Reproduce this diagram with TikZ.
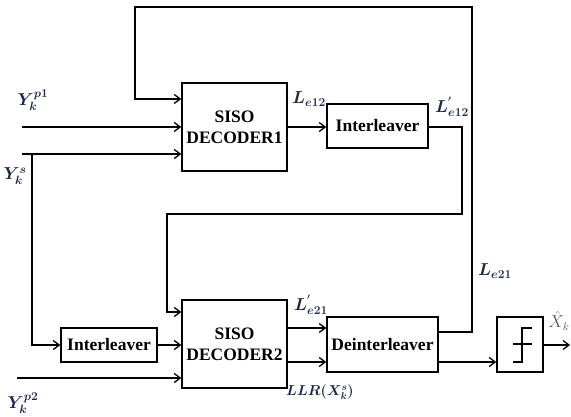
\documentclass[tikz,border=0pt]{standalone}
\usepackage{amsmath,bm}
\usepackage{fontspec}
\setmainfont{Liberation Serif}
\usetikzlibrary{arrows.meta}
\definecolor{labcol}{RGB}{25,40,75}
\definecolor{xcol}{RGB}{90,90,90}
\tikzset{
  blk/.style={draw, line width=1.5pt, fill=white, align=center, inner sep=0pt,
    font=\fontsize{17.5}{21}\selectfont\bfseries},
  wire/.style={line width=1.5pt},
  arr/.style={wire, -{Straight Barb[length=6pt,width=9pt,line width=1.3pt]}},
  lab/.style={text=labcol, inner sep=0pt, font=\fontsize{17}{19}\selectfont},
}
\begin{document}
\begin{tikzpicture}[x=1pt,y=-1pt]
\useasboundingbox (0,0) rectangle (571,417);
% blocks
\node[blk, minimum width=105pt, minimum height=88pt] (dec1) at (234.5,127) {SISO\\DECODER1};
\node[blk, minimum width=101pt, minimum height=44pt] (int1) at (377.5,126) {Interleaver};
\node[blk, minimum width=96pt, minimum height=34pt] (int2) at (109,345) {Interleaver};
\node[blk, minimum width=105pt, minimum height=88pt] (dec2) at (234.5,344) {SISO\\DECODER2};
\node[blk, minimum width=111pt, minimum height=55pt] (deint) at (382.5,344.5) {Deinterleaver};
\node[blk, minimum width=46pt, minimum height=55pt] (hard) at (520,344.5) {};
% step symbol
\draw[wire, line width=1.3pt] (513,362) -- (522,362) -- (522,328) -- (532,328);
\draw[wire, line width=1.3pt] (513,344) -- (532,344);
% input coordinates
\coordinate (yp1) at (22,127);
\coordinate (ys) at (22,154);
\coordinate (br) at (32,154);
\coordinate (yp2) at (17,378);
\coordinate (out) at (570,345);
% inputs
\draw[arr] (yp1) -- (yp1 -| dec1.west);
\draw[arr] (ys) -- (ys -| dec1.west);
\draw[arr] (br) |- (int2.west);
\draw[arr] (int2.east) -- (int2.east -| dec2.west);
\draw[arr] (yp2) -- (yp2 -| dec2.west);
% decoder1 -> interleaver
\draw[arr] (dec1.east |- 0,127) -- (int1.west |- 0,127);
% interleaver1 -> decoder2 feedback
\draw[arr] (int1.east |- 0,127) -- (462,127) -- (462,214) -- (167,214) -- (167,312) -- (dec2.west |- 0,312);
% decoder2 -> deinterleaver
\draw[arr] (dec2.east |- 0,328) -- (deint.west |- 0,328);
\draw[arr] (dec2.east |- 0,362) -- (deint.west |- 0,362);
% deinterleaver -> decoder1 feedback
\draw[arr] (deint.east |- 0,332) -- (472,332) -- (472,7) -- (135,7) -- (135,99) -- (dec1.west |- 0,99);
% deinterleaver -> hard decision
\draw[arr] (deint.east |- 0,362) -- (hard.west |- 0,362);
\draw[arr] (hard.east |- out) -- (out);
% labels
\node[lab] (lyp1) at (33,100) {$\bm{Y_k^{p1}}$};
\node[lab] (lys) at (15,176) {$\bm{Y_k^{s}}$};
\node[lab] (lyp2) at (23,403) {$\bm{Y_k^{p2}}$};
\node[lab] (le12) at (309,99) {$\bm{L_{e12}}$};
\node[lab] (lpe12) at (452,107) {$\bm{L^{'}_{e12}}$};
\node[lab] (le21) at (495,271) {$\bm{L_{e21}}$};
\node[lab] (lpe21) at (311,305) {$\bm{L^{'}_{e21}}$};
\node[lab, font=\fontsize{14}{16}\selectfont] (llr) at (320,392) {$\bm{LLR(X_k^s)}$};
\node[text=xcol, inner sep=0pt, font=\fontsize{16}{18}\selectfont] (xhat) at (559,321) {$\hat{X}_k$};
\end{tikzpicture}
\end{document}
